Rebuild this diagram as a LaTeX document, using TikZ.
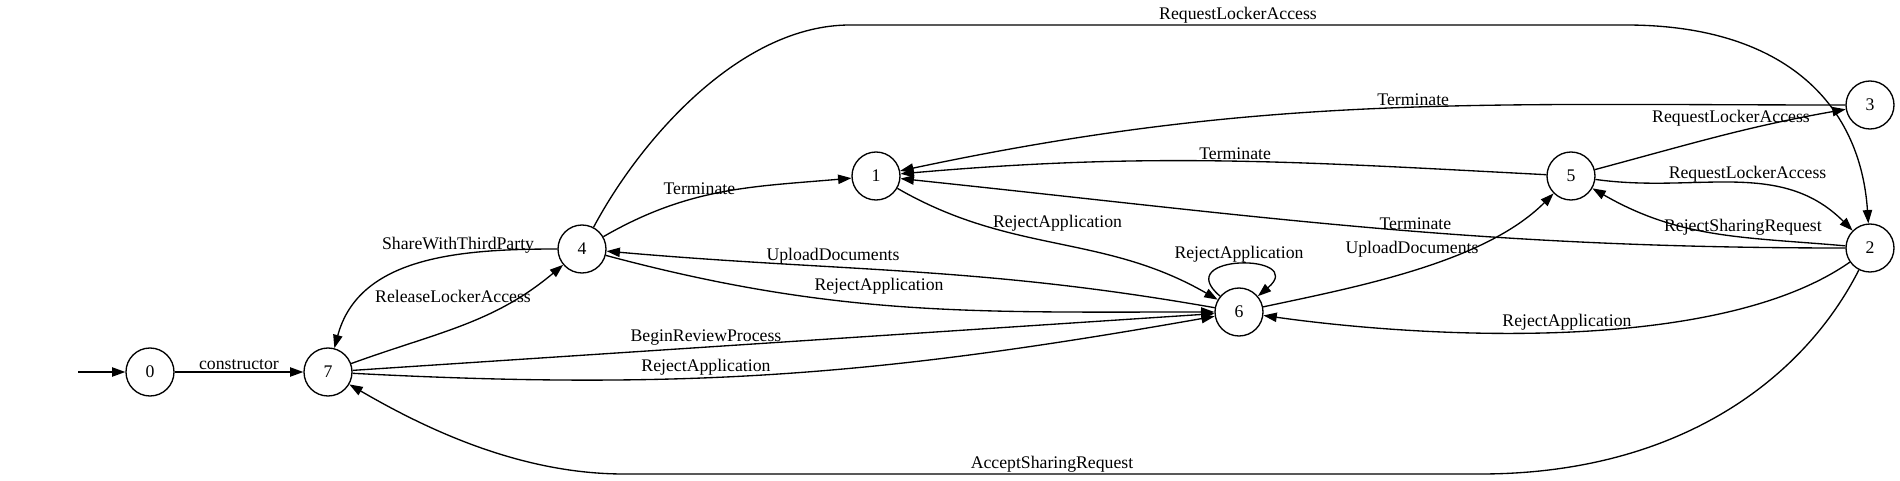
\documentclass[tikz,border=0pt]{standalone}
\usepackage{fontspec}
\setmainfont{Liberation Serif}
\usepackage{tikz}
\usetikzlibrary{positioning, arrows.meta}

\begin{document}
\begin{tikzpicture}[
    x=0.75pt, y=0.75pt,
    on grid,
    line width=1pt,
    every node/.style={font=\fontsize{13.3pt}{16pt}\selectfont},
    state/.style={circle, draw=black, minimum size=36pt, inner sep=0pt},
    trans/.style={-{Triangle[length=10pt, width=7pt]}},
    edge_label/.style={inner sep=1pt}
]
\useasboundingbox (0,0) rectangle (1900,480);

% Nodes
\node[state] (s0) at (150,108) {0};
\coordinate[left=54pt of s0] (init);
\node[state, right=133.5pt of s0] (s7) {7};
\node[state, above right=92.25pt and 190.5pt of s7] (s4) {4};
\node[state, above right=54.75pt and 220.5pt of s4] (s1) {1};
\node[state, below right=102pt and 272.25pt of s1] (s6) {6};
\node[state, right=521.25pt of s1] (s5) {5};
\node[state, above right=53.25pt and 224.25pt of s5] (s3) {3};
\node[state, below=107.25pt of s3] (s2) {2};

% Edges
\draw[trans] (init) -- (s0);
\draw[trans] (s0) -- node[edge_label, above] {constructor} (s7);
\draw[trans] (s4) to[out=180, in=75] node[edge_label, pos=0.35, above] {ShareWithThirdParty} (s7);
\draw[trans] (s7) to[out=20, in=220] node[edge_label, pos=0.45, above=18pt] {ReleaseLockerAccess} (s4);
\draw[trans] (s4) to[out=30, in=185] node[edge_label, pos=0.4, above] {Terminate} (s1);
\draw[trans] (s4) .. controls (640,340) and (740,455) .. (850,455)
    -- node[edge_label, above] {RequestLockerAccess} (1626,455)
    .. controls (1780,455) and (1860,380) .. (s2);
\draw[trans] (s1) to[out=-30, in=150] node[edge_label, pos=0.5, above=8pt] {RejectApplication} (s6);
\draw[trans] (s6) to[out=170, in=-5] node[edge_label, pos=0.64, above] {UploadDocuments} (s4);
\draw[trans] (s4) to[out=-15, in=180] node[edge_label, pos=0.45, above=6pt] {RejectApplication} (s6);
\draw[trans] (s7) -- node[edge_label, pos=0.41, above] {BeginReviewProcess} (s6);
\draw[trans] (s7) to[out=-3, in=190] node[edge_label, pos=0.4, above] {RejectApplication} (s6);
\draw[trans] (s6) to[out=140, in=40, min distance=50pt] node[edge_label, above] {RejectApplication} (s6);
\draw[trans] (s6) to[out=12, in=225, looseness=0.8] node[edge_label, pos=0.48, above=8pt] {UploadDocuments} (s5);
\draw[trans] (s5) to[out=177, in=5] node[edge_label, pos=0.48, above] {Terminate} (s1);
\draw[trans] (s3) to[out=180, in=12] node[edge_label, pos=0.45, above] {Terminate} (s1);
\draw[trans] (s5) to[out=15, in=190] node[edge_label, pos=0.55, above=4pt] {RequestLockerAccess} (s3);
\draw[trans] (s5) to[out=-8, in=135] node[edge_label, pos=0.55, above] {RequestLockerAccess} (s2);
\draw[trans] (s2) to[out=175, in=-30] node[edge_label, pos=0.38, above] {RejectSharingRequest} (s5);
\draw[trans] (s2) to[out=180, in=-6] node[edge_label, pos=0.45, above] {Terminate} (s1);
\draw[trans] (s2) to[out=215, in=-8, looseness=0.7] node[edge_label, pos=0.5, above] {RejectApplication} (s6);
\draw[trans] (s2) .. controls (1804,102) and (1680,6) .. (1480,6)
    -- node[edge_label, above] {AcceptSharingRequest} (624,6)
    .. controls (520,6) and (426,51) .. (s7);

\end{tikzpicture}
\end{document}
